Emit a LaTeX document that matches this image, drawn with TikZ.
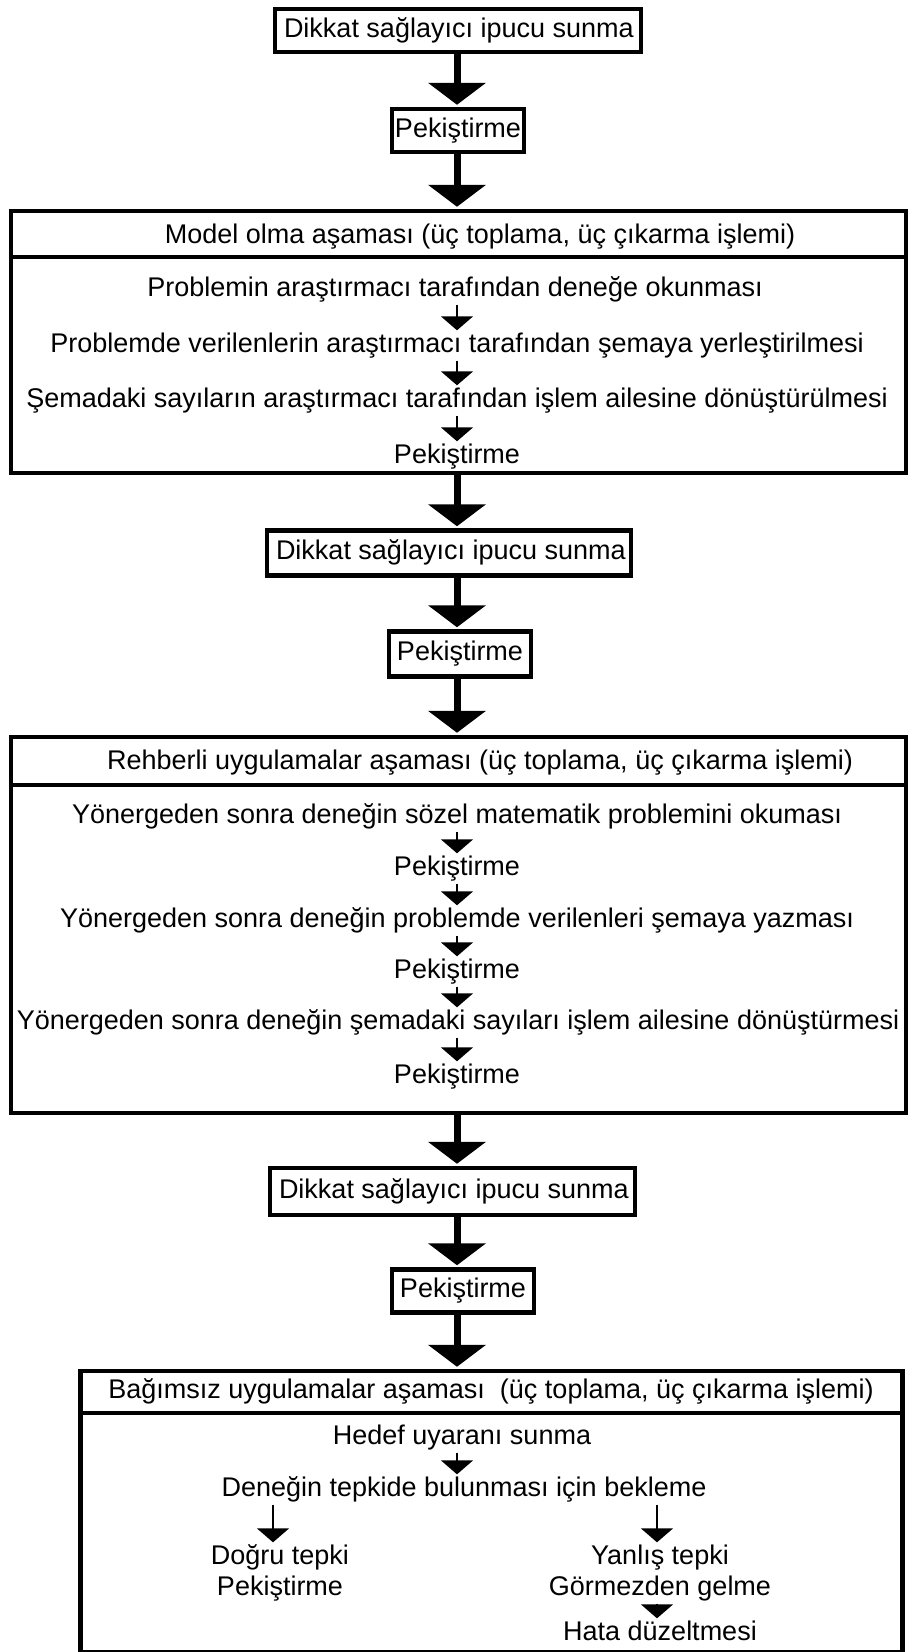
\documentclass[tikz,border=0pt]{standalone}
\usepackage{fontspec}
\setmainfont{Liberation Sans}
\usetikzlibrary{arrows.meta}
\newcommand{\cuetext}[2]{\makebox[#1][l]{#2}}
\begin{document}
\begin{tikzpicture}[x=1pt,y=-1pt,
  every node/.style={inner sep=0pt, font=\fontsize{27}{31}\selectfont},
  ln/.style={text height=19pt, text depth=6pt},
  stepbox/.style={draw, line width=4.5pt, ln},
  frame/.style={draw, line width=4.5pt, minimum width=895pt},
  rule/.style={line width=4.5pt},
  bigarrow/.style={line width=7pt, shorten >=2pt, -{Triangle[width=57pt,length=22pt]}},
  smallarrow/.style={line width=1.8pt, shorten <=2pt, shorten >=3pt, -{Triangle[width=32pt,length=14pt]}}]

\useasboundingbox[fill=white] (0,0) rectangle (909,1652);
\coordinate (ax) at (457,0);

% ---- opening cue and reinforcement
\node[stepbox, minimum width=366pt, minimum height=43pt] (b1) at (458,30.5) {\cuetext{348pt}{Dikkat sağlayıcı ipucu sunma}};
\node[stepbox, minimum width=132pt, minimum height=43pt] (b2) at (458,130.5) {Pekiştirme};

% ---- modelling phase
\node[frame, minimum height=262pt] (model) at (458.5,342) {};
\coordinate (mdiv) at (0,257);
\draw[rule] (model.west |- mdiv) -- (model.east |- mdiv);
\node[ln] (mh) at (480,237) {Model olma aşaması (üç toplama, üç çıkarma işlemi)};
\node[ln] (m1) at (455,290) {Problemin araştırmacı tarafından deneğe okunması};
\node[ln] (m2) at (457,346) {Problemde verilenlerin araştırmacı tarafından şemaya yerleştirilmesi};
\node[ln] (m3) at (457,401) {Şemadaki sayıların araştırmacı tarafından işlem ailesine dönüştürülmesi};
\node[ln] (m4) at (457,457) {Pekiştirme};

% ---- second cue and reinforcement
\node[stepbox, minimum width=364pt, minimum height=45pt] (b3) at (449,553) {\cuetext{346pt}{Dikkat sağlayıcı ipucu sunma}};
\node[stepbox, minimum width=142pt, minimum height=45pt] (b4) at (460,654) {Pekiştirme};

% ---- guided practice phase
\node[frame, minimum height=376pt] (guided) at (458.5,925) {};
\coordinate (gdiv) at (0,785);
\draw[rule] (guided.west |- gdiv) -- (guided.east |- gdiv);
\node[ln] (gh) at (480,763) {Rehberli uygulamalar aşaması (üç toplama, üç çıkarma işlemi)};
\node[ln] (g1) at (457,817) {Yönergeden sonra deneğin sözel matematik problemini okuması};
\node[ln] (g2) at (457,869) {Pekiştirme};
\node[ln] (g3) at (457,921) {Yönergeden sonra deneğin problemde verilenleri şemaya yazması};
\node[ln] (g4) at (457,972) {Pekiştirme};
\node[ln] (g5) at (458,1023) {Yönergeden sonra deneğin şemadaki sayıları işlem ailesine dönüştürmesi};
\node[ln] (g6) at (457,1077) {Pekiştirme};

% ---- third cue and reinforcement
\node[stepbox, minimum width=365pt, minimum height=47pt] (b5) at (452.5,1191.5) {\cuetext{347pt}{Dikkat sağlayıcı ipucu sunma}};
\node[stepbox, minimum width=142pt, minimum height=43pt] (b6) at (463,1291) {Pekiştirme};

% ---- independent practice phase
\node[frame, minimum width=822pt, minimum height=281pt] (indep) at (491.5,1511.5) {};
\coordinate (idiv) at (0,1413);
\draw[rule] (indep.west |- idiv) -- (indep.east |- idiv);
\node[ln] (ih) at (491,1392) {Bağımsız uygulamalar aşaması~ (üç toplama, üç çıkarma işlemi)};
\node[ln] (i1) at (462,1438) {Hedef uyaranı sunma};
\node[ln] (i2) at (464,1490) {Deneğin tepkide bulunması için bekleme};
\node[ln] (ok1) at (280,1558) {Doğru tepki};
\node[ln] (ok2) at (280,1589) {Pekiştirme};
\node[ln] (no1) at (660,1558) {Yanlış tepki};
\node[ln] (no2) at (660,1589) {Görmezden gelme};
\node[ln] (no3) at (660,1634) {Hata düzeltmesi};
\coordinate (lx) at (273,0);
\coordinate (rx) at (657,0);

% ---- main flow
\draw[bigarrow] (b1.south -| ax) -- (b2.north -| ax);
\draw[bigarrow] (b2.south -| ax) -- (model.north -| ax);
\draw[bigarrow] (model.south -| ax) -- (b3.north -| ax);
\draw[bigarrow] (b3.south -| ax) -- (b4.north -| ax);
\draw[bigarrow] (b4.south -| ax) -- (guided.north -| ax);
\draw[bigarrow] (guided.south -| ax) -- (b5.north -| ax);
\draw[bigarrow] (b5.south -| ax) -- (b6.north -| ax);
\draw[bigarrow] (b6.south -| ax) -- (indep.north -| ax);

% ---- steps inside the phases
\draw[smallarrow] (m1.south -| ax) -- (m2.north -| ax);
\draw[smallarrow] (m2.south -| ax) -- (m3.north -| ax);
\draw[smallarrow] (m3.south -| ax) -- (m4.north -| ax);
\draw[smallarrow] (g1.south -| ax) -- (g2.north -| ax);
\draw[smallarrow] (g2.south -| ax) -- (g3.north -| ax);
\draw[smallarrow] (g3.south -| ax) -- (g4.north -| ax);
\draw[smallarrow] (g4.south -| ax) -- (g5.north -| ax);
\draw[smallarrow] (g5.south -| ax) -- (g6.north -| ax);
\draw[smallarrow] (i1.south -| ax) -- (i2.north -| ax);
\draw[smallarrow] (i2.south -| lx) -- (ok1.north -| lx);
\draw[smallarrow] (i2.south -| rx) -- (no1.north -| rx);
\draw[smallarrow] (no2.south -| rx) -- (no3.north -| rx);
\end{tikzpicture}
\end{document}
